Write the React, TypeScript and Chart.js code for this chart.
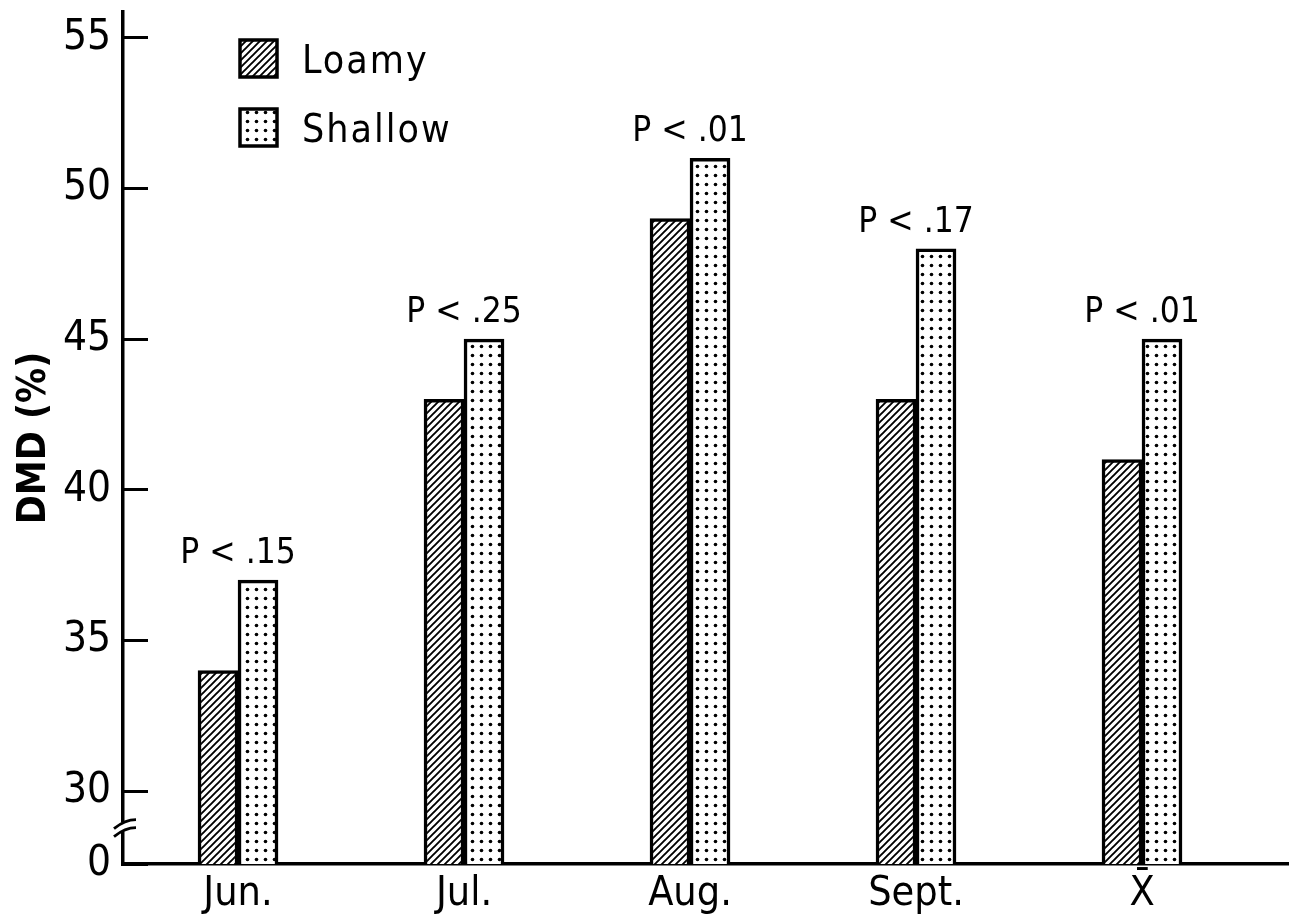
import { useEffect, useRef } from "react";
import { Chart, registerables } from "chart.js";

Chart.register(...registerables);

// ---- data ----
const categories = ["Jun.", "Jul.", "Aug.", "Sept.", "X\u0304"];
const seriesNames = ["Loamy", "Shallow"];
const loamy = [34, 43, 49, 43, 41];
const shallow = [37, 45, 51, 48, 45];
const pLabels = ["P < .15", "P < .25", "P < .01", "P < .17", "P < .01"];
const yTickValues = [30, 35, 40, 45, 50, 55];
const Y_MIN = 27.58; // broken axis: this position is labelled "0"
const Y_MAX = 55.86;
const X_MIN = 0.491;
const X_MAX = 5.646;

const FONT = '"Liberation Sans Narrow", "DejaVu Sans Condensed", "Liberation Sans", sans-serif';

function makeHatch(ctx: CanvasRenderingContext2D): CanvasPattern {
  const s = 7;
  const c = document.createElement("canvas");
  c.width = s;
  c.height = s;
  const g = c.getContext("2d")!;
  g.fillStyle = "#fff";
  g.fillRect(0, 0, s, s);
  g.strokeStyle = "#000";
  g.lineWidth = 1.9;
  g.beginPath();
  g.moveTo(-1, s + 1);
  g.lineTo(s + 1, -1);
  g.moveTo(-2, 2);
  g.lineTo(2, -2);
  g.moveTo(s - 2, s + 2);
  g.lineTo(s + 2, s - 2);
  g.stroke();
  return ctx.createPattern(c, "repeat")!;
}

function makeDots(ctx: CanvasRenderingContext2D): CanvasPattern {
  const s = 9;
  const c = document.createElement("canvas");
  c.width = s;
  c.height = s;
  const g = c.getContext("2d")!;
  g.fillStyle = "#fff";
  g.fillRect(0, 0, s, s);
  g.fillStyle = "#000";
  g.beginPath();
  g.arc(4.5, 4.5, 1.8, 0, Math.PI * 2);
  g.fill();
  return ctx.createPattern(c, "repeat")!;
}

export default function App() {
  const ref = useRef<HTMLCanvasElement | null>(null);

  useEffect(() => {
    const canvas = ref.current!;
    const ctx = canvas.getContext("2d")!;
    const hatch = makeHatch(ctx);
    const dots = makeDots(ctx);
    const fills = [hatch, dots];

    Chart.defaults.color = "#000";

    const annot = {
      id: "annot",
      afterDraw(chart: any) {
        const c = chart.ctx as CanvasRenderingContext2D;
        const xs = chart.scales.x;
        const ys = chart.scales.y;
        const area = chart.chartArea;
        c.save();
        // significance labels
        c.fillStyle = "#000";
        c.font = `35px ${FONT}`;
        c.textAlign = "center";
        c.textBaseline = "alphabetic";
        categories.forEach((_, i) => {
          const top = Math.max(loamy[i], shallow[i]);
          c.fillText(pLabels[i], xs.getPixelForValue(i + 1), ys.getPixelForValue(top) - 17);
        });
        // legend
        const boxX = 240;
        const rows = [40, 109];
        c.textAlign = "left";
        c.font = `39px ${FONT}`;
        (c as any).letterSpacing = "2px";
        seriesNames.forEach((name, i) => {
          const by = rows[i];
          c.fillStyle = fills[i];
          c.fillRect(boxX, by, 37, 37);
          c.strokeStyle = "#000";
          c.lineWidth = 3.5;
          c.strokeRect(boxX, by, 37, 37);
          c.fillStyle = "#000";
          c.fillText(name, 302, by + 33);
        });
        (c as any).letterSpacing = "0px";
        // axis break
        const ax = area.left;
        const mid = (ys.getPixelForValue(yTickValues[0]) + area.bottom) / 2;
        c.fillStyle = "#fff";
        c.fillRect(ax - 3, mid - 5, 6, 9);
        c.strokeStyle = "#000";
        c.lineWidth = 2.8;
        c.beginPath();
        c.moveTo(ax - 9, mid + 1);
        c.quadraticCurveTo(ax + 2, mid - 8, ax + 13, mid - 8);
        c.moveTo(ax - 9, mid + 9);
        c.quadraticCurveTo(ax + 2, mid, ax + 13, mid);
        c.stroke();
        c.restore();
      },
    };

    const chart = new Chart(ctx, {
      type: "bar",
      data: {
        datasets: [
          {
            label: seriesNames[0],
            data: loamy.map((v, i) => ({ x: i + 1, y: v })),
            backgroundColor: hatch,
            borderColor: "#000",
            borderWidth: 3.5,
            barThickness: 40,
          },
          {
            label: seriesNames[1],
            data: shallow.map((v, i) => ({ x: i + 1, y: v })),
            backgroundColor: dots,
            borderColor: "#000",
            borderWidth: 3.5,
            barThickness: 40,
          },
        ],
      },
      options: {
        responsive: false,
        animation: false,
        layout: { padding: { top: 12, right: 5, left: 0, bottom: 0 } },
        plugins: {
          legend: { display: false },
          tooltip: { enabled: false },
        },
        scales: {
          x: {
            type: "linear",
            min: X_MIN,
            max: X_MAX,
            offset: false,
            grid: { display: false, drawTicks: false },
            border: { display: true, color: "#000", width: 3.5 },
            ticks: {
              autoSkip: false,
              maxRotation: 0,
              padding: 6,
              color: "#000",
              font: { family: FONT, size: 41 },
              callback: (v: any) => categories[Math.round(Number(v)) - 1] ?? "",
            },
            afterBuildTicks: (scale: any) => {
              scale.ticks = categories.map((_, i) => ({ value: i + 1 }));
            },
            afterFit: (scale: any) => {
              scale.height = 53;
              scale.paddingLeft = 0;
              scale.paddingRight = 0;
            },
          },
          y: {
            type: "linear",
            min: Y_MIN,
            max: Y_MAX,
            grid: {
              drawOnChartArea: false,
              drawTicks: true,
              tickLength: -25,
              color: "#000",
              lineWidth: 3,
            },
            border: { display: true, color: "#000", width: 3.5 },
            ticks: {
              padding: 37,
              color: "#000",
              font: { family: FONT, size: 42 },
              callback: (v: any) => (Number(v) === Y_MIN ? "0" : String(v)),
            },
            afterBuildTicks: (scale: any) => {
              scale.ticks = [Y_MIN, ...yTickValues].map((v) => ({ value: v }));
            },
            afterFit: (scale: any) => {
              scale.width = 123;
              scale.paddingTop = 0;
              scale.paddingBottom = 0;
            },
            title: {
              display: true,
              text: "DMD (%)",
              color: "#000",
              font: { family: FONT, size: 39, weight: "bold" },
              padding: { top: 11, bottom: 0 },
            },
          },
        },
      },
      plugins: [annot],
    } as any);

    return () => chart.destroy();
  }, []);

  return (
    <div style={{ position: "fixed", left: 0, top: 0, width: 1293, height: 917, background: "#fff" }}>
      <canvas ref={ref} width={1293} height={917} style={{ display: "block" }} />
    </div>
  );
}
